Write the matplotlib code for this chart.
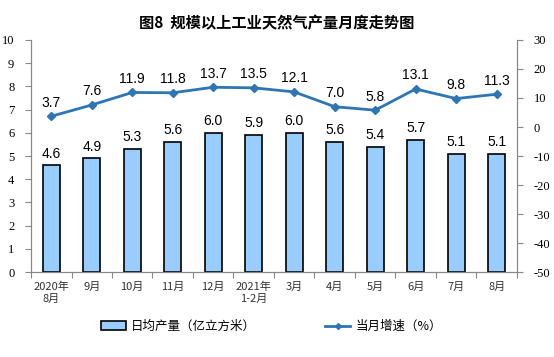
import matplotlib
matplotlib.use("Agg")
import matplotlib.pyplot as plt
from matplotlib.lines import Line2D
from matplotlib.patches import Patch

plt.rcParams['font.family'] = ['Noto Sans CJK SC', 'DejaVu Sans']

categories = ["2020年\n8月", "9月", "10月", "11月", "12月", "2021年\n1-2月",
              "3月", "4月", "5月", "6月", "7月", "8月"]
daily_output = [4.6, 4.9, 5.3, 5.6, 6.0, 5.9, 6.0, 5.6, 5.4, 5.7, 5.1, 5.1]
growth = [3.7, 7.6, 11.9, 11.8, 13.7, 13.5, 12.1, 7.0, 5.8, 13.1, 9.8, 11.3]
left_ticks = list(range(0, 11))
right_ticks = list(range(-50, 31, 10))

fig = plt.figure(figsize=(5.54, 3.57), dpi=100)
ax = fig.add_axes([0.056, 0.238, 0.877, 0.650])
ax2 = ax.twinx()

x = list(range(len(categories)))
bar_color = "#99CCFF"
line_color = "#2E75B6"

ax.bar(x, daily_output, width=0.42, color=bar_color, edgecolor="black", linewidth=1.2, zorder=2)
for xi, v in zip(x, daily_output):
    ax.text(xi, v + 0.2, f"{v:.1f}", ha="center", va="bottom", fontsize=10,
            family="Liberation Sans")

ax2.plot(x, growth, color=line_color, linewidth=2, marker="D", markersize=4, zorder=3)
for xi, v in zip(x, growth):
    ax2.text(xi, v + 2.3, f"{v:.1f}", ha="center", va="bottom", fontsize=10,
             family="Liberation Sans")

ax.set_xlim(-0.5, len(categories) - 0.5)
ax.set_ylim(0, 10)
ax2.set_ylim(-50, 30)
ax.set_yticks(left_ticks)
ax2.set_yticks(right_ticks)
ax.set_yticklabels([str(t) for t in left_ticks], family="Liberation Serif", fontsize=9)
ax2.set_yticklabels([str(t) for t in right_ticks], family="Liberation Serif", fontsize=9)

ax.set_xticks([i - 0.5 for i in range(len(categories) + 1)])
ax.set_xticklabels([])
ax.set_xticks(x, minor=True)
ax.set_xticklabels(categories, minor=True, fontsize=8, color="#333333")
ax.tick_params(axis="x", which="minor", length=0, pad=7)
ax.tick_params(axis="x", which="major", length=4, color="#888888")
ax.tick_params(axis="y", length=4, color="#888888", pad=8)
ax2.tick_params(axis="y", length=4, color="#888888", pad=8)

for a in (ax, ax2):
    a.spines["top"].set_visible(False)
    for s in ("left", "right", "bottom"):
        a.spines[s].set_color("#888888")

fig.text(0.5, 0.935, "图8  规模以上工业天然气产量月度走势图", ha="center", va="center",
         fontsize=11, fontweight="bold")

h1 = Patch(facecolor=bar_color, edgecolor="black", linewidth=1.2)
h2 = Line2D([0], [0], color=line_color, linewidth=2, marker="D", markersize=3)
fig.legend([h1, h2], ["日均产量（亿立方米）", "当月增速（%）"], loc="center",
           bbox_to_anchor=(0.49, 0.085), ncol=2, frameon=False, fontsize=9,
           handlelength=2.0, handletextpad=0.4, columnspacing=5.5)

fig.savefig("out.png", dpi=100)
